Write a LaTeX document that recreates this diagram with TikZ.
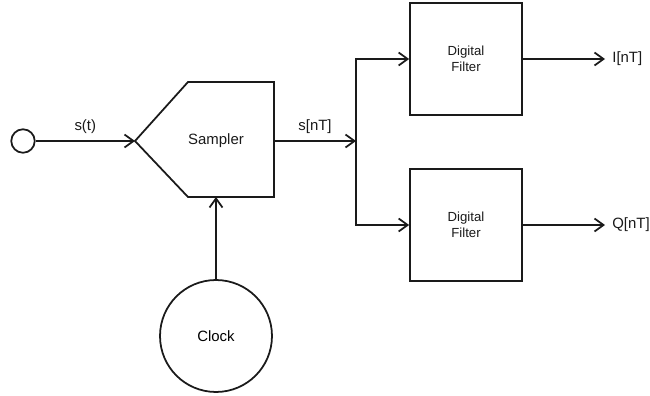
\documentclass[tikz,border=0pt]{standalone}
\usepackage{fontspec}
\setmainfont{Liberation Sans}
\usetikzlibrary{arrows.meta,positioning,calc}
\definecolor{ink}{HTML}{1A1A1A}
\tikzset{
  wire/.style={ink,line width=1pt,-{Straight Barb[length=1.8mm,width=2.6mm]}},
  blk/.style={draw=ink,line width=1pt,minimum width=2.24cm,minimum height=2.24cm,
              align=center,font=\fontsize{7.5}{9}\selectfont,text=ink},
  lbl/.style={font=\fontsize{8.5}{10}\selectfont,text=ink,inner sep=0pt}
}

\begin{document}
\begin{tikzpicture}[x=0.02cm,y=-0.02cm]
  \useasboundingbox (0,0) rectangle (650,396);

  % source and sampler
  \node[circle,draw=ink,line width=1pt,minimum size=0.47cm,inner sep=0pt] (src) at (23,141) {};
  \node[lbl] (sampler) at (216,141) {Sampler};
  \coordinate (tip) at (135,141);
  \coordinate (stl) at (188,82);
  \coordinate (str) at (274,82);
  \coordinate (sbr) at (274,197);
  \coordinate (sbl) at (188,197);
  \coordinate (sout) at (274,141);
  \coordinate (sbot) at (216,197);
  \draw[ink,line width=1pt] (tip) -- (stl) -- (str) -- (sbr) -- (sbl) -- cycle;
  \node[circle,draw=ink,line width=1pt,minimum size=2.24cm,inner sep=0pt,
        font=\fontsize{8.5}{10}\selectfont] (clock) at (216,336) {Clock};

  % filters
  \node[blk] (filtI) at (466,59) {Digital\\Filter};
  \node[blk] (filtQ) at (466,225) {Digital\\Filter};
  \coordinate (split) at (356,141);
  \coordinate (outI) at (605,59);
  \coordinate (outQ) at (605,225);
  \node[lbl,anchor=west] (nI) at (612,59) {I[nT]};
  \node[lbl,anchor=west] (nQ) at (612,225) {Q[nT]};

  % connectors
  \draw[wire] (src) -- node[lbl,above=3.5pt] (st) {s(t)} (tip);
  \draw[wire] (clock) -- (sbot);
  \draw[wire] (sout) -- node[lbl,above=3.5pt] (snt) {s[nT]} (split);
  \draw[wire] (split) |- (filtI.west);
  \draw[wire] (split) |- (filtQ.west);
  \draw[wire] (filtI) -- (outI);
  \draw[wire] (filtQ) -- (outQ);
\end{tikzpicture}
\end{document}
